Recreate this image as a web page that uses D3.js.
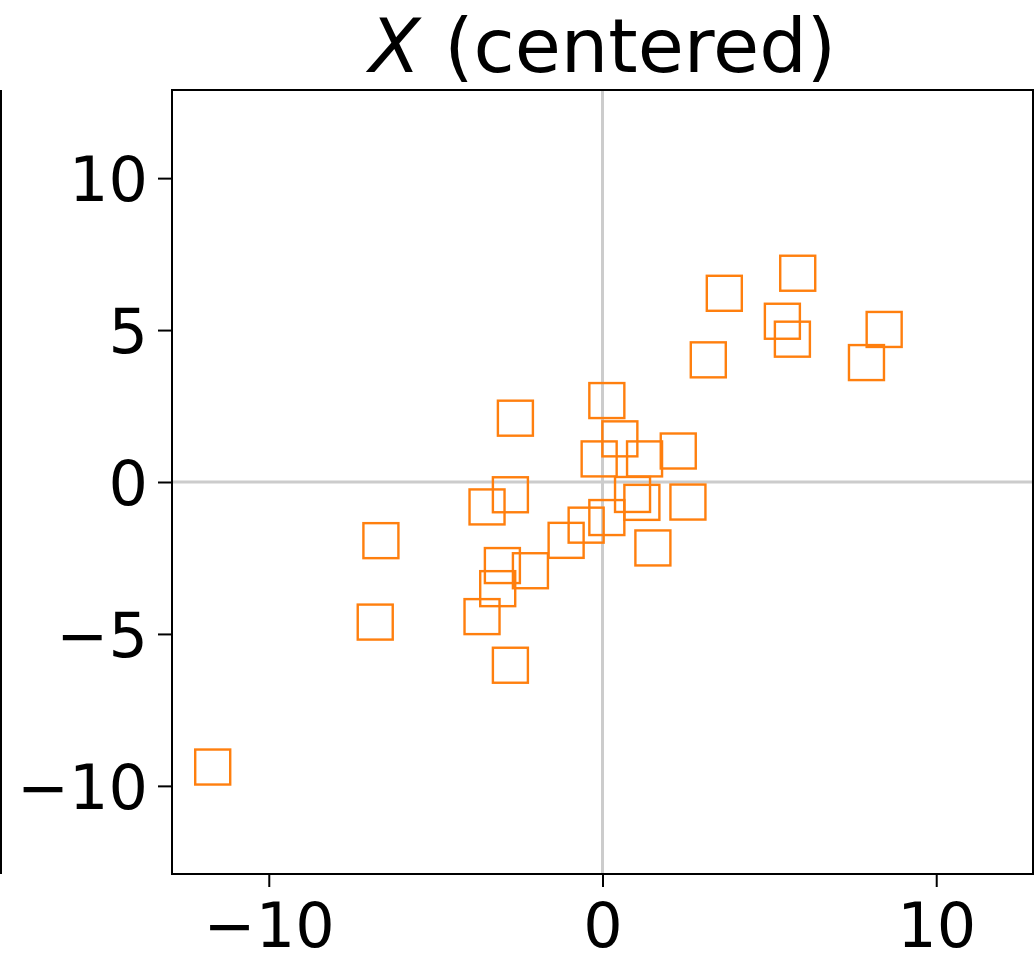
<!DOCTYPE html>
<html>
<head>
<meta charset="utf-8">
<script src="https://cdn.jsdelivr.net/npm/d3@7"></script>
<style>
  html, body { margin: 0; padding: 0; background: #ffffff; }
  svg { display: block; }
</style>
</head>
<body>
<svg id="chart" width="1035" height="953"></svg>
<script>
// Centered sample coordinates
const xValues = [-11.68, -6.64, -6.81, -2.61, -3.46, -2.76, -3.00, -3.14, -3.61, -2.76,
                 -2.16, -1.09, -0.49, 0.13, 0.13, -0.10, 0.52, 1.26, 0.90, 1.18,
                 1.51, 2.27, 2.56, 3.17, 3.65, 5.39, 5.69, 5.85, 7.91, 8.44];
const yValues = [-9.38, -1.93, -4.61, 2.10, -0.82, -0.42, -2.75, -3.51, -4.43, -6.03,
                 -2.92, -1.92, -1.42, -1.17, 2.68, 0.76, 1.42, 0.76, -0.41, -0.67,
                 -2.17, 1.02, -0.66, 4.02, 6.21, 5.29, 4.70, 6.87, 3.93, 5.02];
const xTicks = [-10, 0, 10];
const yTicks = [-10, -5, 0, 5, 10];
const axisLimit = 12.9;

const svg = d3.select("#chart");
const font = "'DejaVu Sans', sans-serif";
const plotLeft = 172, plotRight = 1033, plotTop = 90, plotBottom = 874;

const x = d3.scaleLinear().domain([-axisLimit, axisLimit]).range([plotLeft, plotRight]);
const y = d3.scaleLinear().domain([-axisLimit, axisLimit]).range([plotBottom, plotTop]);

const fmt = d => (d < 0 ? "\u2212" + Math.abs(d) : String(d));

// Right edge of the neighbouring panel
svg.append("line")
  .attr("x1", 1).attr("x2", 1).attr("y1", plotTop).attr("y2", plotBottom)
  .attr("stroke", "#000").attr("stroke-width", 2);

// Reference lines through the origin
svg.append("line")
  .attr("x1", x(0)).attr("x2", x(0)).attr("y1", plotTop).attr("y2", plotBottom)
  .attr("stroke", "#cccccc").attr("stroke-width", 3);
svg.append("line")
  .attr("x1", plotLeft).attr("x2", plotRight).attr("y1", y(0)).attr("y2", y(0))
  .attr("stroke", "#cccccc").attr("stroke-width", 3);

// Square markers
const pts = xValues.map((v, i) => ({ x: v, y: yValues[i] }));
const side = 35;
svg.append("g").selectAll("rect").data(pts).join("rect")
  .attr("x", d => x(d.x) - side / 2)
  .attr("y", d => y(d.y) - side / 2)
  .attr("width", side).attr("height", side)
  .attr("fill", "none")
  .attr("stroke", "#ff7f0e")
  .attr("stroke-width", 2.4);

// Frame
svg.append("rect")
  .attr("x", plotLeft).attr("y", plotTop)
  .attr("width", plotRight - plotLeft).attr("height", plotBottom - plotTop)
  .attr("fill", "none").attr("stroke", "#000").attr("stroke-width", 2);

// Axes
const yAxis = svg.append("g")
  .attr("transform", `translate(${plotLeft},0)`)
  .call(d3.axisLeft(y).tickValues(yTicks).tickFormat(fmt).tickSize(14).tickPadding(10));
const xAxis = svg.append("g")
  .attr("transform", `translate(0,${plotBottom})`)
  .call(d3.axisBottom(x).tickValues(xTicks).tickFormat(fmt).tickSize(13).tickPadding(16));

[xAxis, yAxis].forEach(g => {
  g.select(".domain").remove();
  g.selectAll(".tick line").attr("stroke", "#000").attr("stroke-width", 2);
  g.selectAll(".tick text")
    .attr("fill", "#000")
    .style("font-family", font)
    .style("font-size", "62px");
});
yAxis.selectAll(".tick text").attr("dy", "0.36em");

// Title
const title = svg.append("text")
  .attr("x", (plotLeft + plotRight) / 2)
  .attr("y", 72)
  .attr("text-anchor", "middle")
  .style("font-family", font)
  .style("font-size", "75px")
  .attr("fill", "#000");
title.append("tspan").style("font-style", "italic").text("X");
title.append("tspan").text(" (centered)");
</script>
</body>
</html>
